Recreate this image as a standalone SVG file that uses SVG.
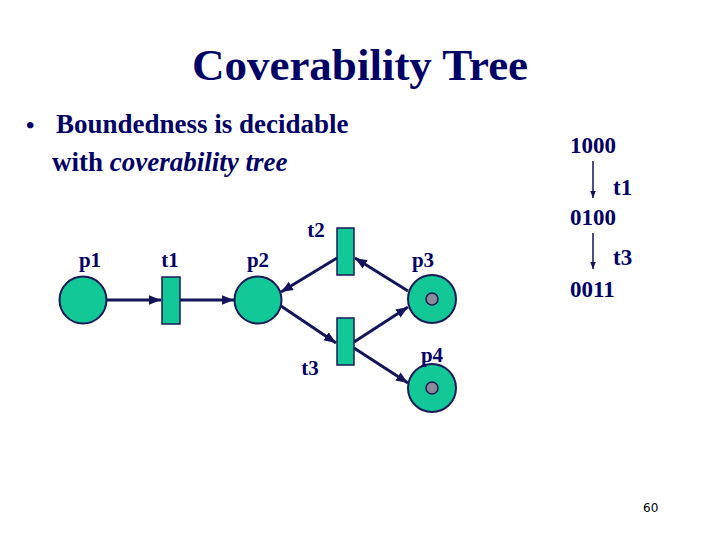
<svg xmlns="http://www.w3.org/2000/svg" width="720" height="540" viewBox="0 0 720 540">
<style>
text{font-family:"Liberation Serif","Times New Roman",serif;fill:#000066;font-weight:bold}
.pl{fill:#12C896;stroke:#1a1a5a;stroke-width:2}
.tr{fill:#12C896;stroke:#1a1a5a;stroke-width:1.5}
.tok{fill:#8a8a98;stroke:#1a1a5a;stroke-width:1.5}
.lbl{font-size:21px;text-anchor:middle}
.arc{stroke:#14145a;stroke-width:3;fill:none;marker-end:url(#ah)}
.tarc{stroke:#14145a;stroke-width:1.5;fill:none;marker-end:url(#ah2)}
</style>
<defs>
<marker id="ah" viewBox="0 0 10 10" refX="10" refY="5" markerWidth="4" markerHeight="4" orient="auto" markerUnits="strokeWidth">
<path d="M0,1 L10,5 L0,9 z" fill="#14145a"/>
</marker>
<marker id="ah2" viewBox="0 0 10 10" refX="10" refY="5" markerWidth="5" markerHeight="7" orient="auto" markerUnits="strokeWidth">
<path d="M0,1 L10,5 L0,9 z" fill="#14145a"/>
</marker>
</defs>
<rect width="720" height="540" fill="#ffffff"/>
<text x="360" y="80" font-size="45" text-anchor="middle">Coverability Tree</text>
<text x="26" y="133" font-size="24">•</text>
<text x="56" y="133" font-size="27">Boundedness is decidable</text>
<text x="52" y="171" font-size="27">with <tspan font-style="italic">coverability tree</tspan></text>

<g id="connectors">
<line class="arc" x1="107" y1="300" x2="161" y2="300"/>
<line class="arc" x1="180" y1="300" x2="234" y2="300"/>
<line class="arc" x1="337" y1="258" x2="281" y2="292"/>
<line class="arc" x1="408" y1="291" x2="355" y2="258"/>
<line class="arc" x1="281" y1="306" x2="336" y2="343"/>
<line class="arc" x1="354" y1="342" x2="408" y2="307"/>
<line class="arc" x1="354" y1="348" x2="408" y2="383"/>
<line class="tarc" x1="593" y1="161" x2="593" y2="198"/>
<line class="tarc" x1="593" y1="233" x2="593" y2="269"/>
</g>

<g id="p1"><circle class="pl" cx="83" cy="300" r="23.5"/><text class="lbl" x="90" y="267">p1</text></g>
<g id="t1"><rect class="tr" x="162" y="277" width="18" height="47"/><text class="lbl" x="170" y="267">t1</text></g>
<g id="p2"><circle class="pl" cx="258" cy="300" r="23.5"/><text class="lbl" x="258" y="267">p2</text></g>
<g id="t2"><rect class="tr" x="337" y="228" width="17" height="47"/><text class="lbl" x="316" y="237">t2</text></g>
<g id="t3"><rect class="tr" x="337" y="318" width="17" height="47"/><text class="lbl" x="310" y="375">t3</text></g>
<g id="p3"><circle class="pl" cx="432" cy="299" r="24"/><circle class="tok" cx="432" cy="299" r="6"/><text class="lbl" x="423" y="267">p3</text></g>
<g id="p4"><circle class="pl" cx="432" cy="388" r="24"/><circle class="tok" cx="432" cy="388" r="6"/><text class="lbl" x="432" y="362">p4</text></g>

<g id="tree">
<text x="570" y="153" font-size="23">1000</text>
<text x="613" y="195" font-size="23">t1</text>
<text x="570" y="225" font-size="23">0100</text>
<text x="613" y="265" font-size="23">t3</text>
<text x="570" y="297" font-size="23">0011</text>
</g>
<text x="643" y="512" font-size="12" style="font-family:'DejaVu Sans',sans-serif;font-weight:normal;fill:#000">60</text>
</svg>
